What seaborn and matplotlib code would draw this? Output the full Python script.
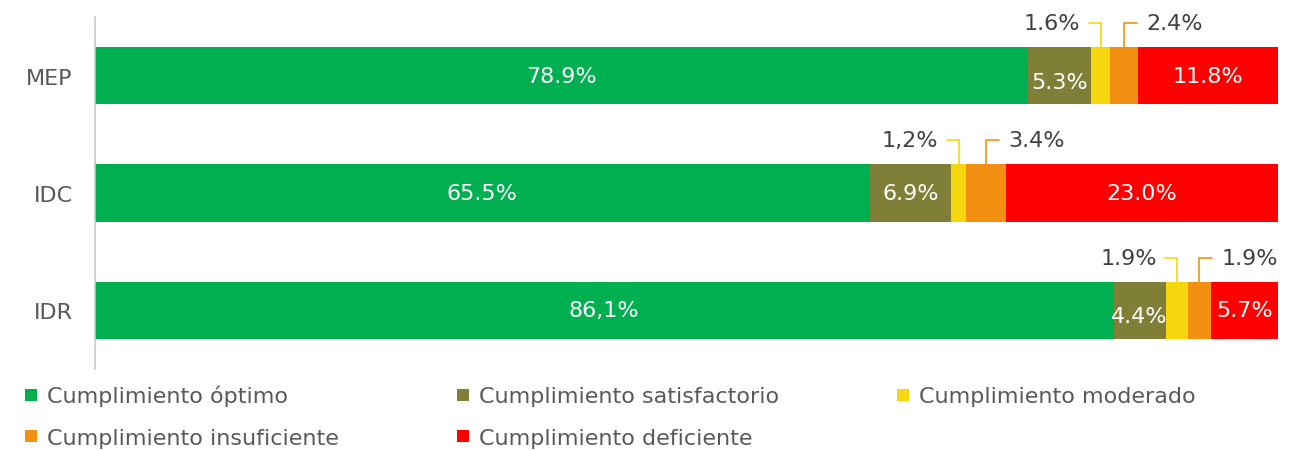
import matplotlib

matplotlib.use("Agg")
import matplotlib.pyplot as plt
import numpy as np
import seaborn as sns
from matplotlib.lines import Line2D


categories = ["MEP", "IDC", "IDR"]
levels = [
    "Cumplimiento óptimo",
    "Cumplimiento satisfactorio",
    "Cumplimiento moderado",
    "Cumplimiento insuficiente",
    "Cumplimiento deficiente",
]
optimo = [78.9, 65.5, 86.1]
satisfactorio = [5.3, 6.9, 4.4]
moderado = [1.6, 1.2, 1.9]
insuficiente = [2.4, 3.4, 1.9]
deficiente = [11.8, 23.0, 5.7]

optimo_labels = ["78.9%", "65.5%", "86,1%"]
satisfactorio_labels = ["5.3%", "6.9%", "4.4%"]
moderado_labels = ["1.6%", "1,2%", "1.9%"]
insuficiente_labels = ["2.4%", "3.4%", "1.9%"]
deficiente_labels = ["11.8%", "23.0%", "5.7%"]

colors = ["#00B050", "#7F7F37", "#F6D70F", "#F39012", "#FF0000"]
TEXT = "#404040"
LEGEND_TEXT = "#595959"

series = np.array([optimo, satisfactorio, moderado, insuficiente, deficiente])
lefts = np.vstack([np.zeros(len(categories)), np.cumsum(series, axis=0)[:-1]])
rights = np.cumsum(series, axis=0)

sns.set_theme(style="white")
plt.rcParams["font.family"] = ["DejaVu Sans"]

fig = plt.figure(figsize=(12.94, 4.52), dpi=100)
ax = fig.add_axes([95 / 1294, 1 - 370 / 452, (1278 - 95) / 1294, (370 - 18) / 452])

# stacked bars: draw cumulative totals from the outermost layer inward
for i in range(len(levels) - 1, -1, -1):
    sns.barplot(
        x=rights[i],
        y=categories,
        color=colors[i],
        saturation=1,
        width=0.49,
        linewidth=0,
        ax=ax,
    )

fs = 16
ax.set_xlim(0, 100)
ax.set_ylim(2.5, -0.5)
ax.set_xlabel("")
ax.set_ylabel("")
ax.set_xticks([])
ax.tick_params(axis="y", length=0, pad=16, labelsize=fs, labelcolor=LEGEND_TEXT)
for side in ["top", "right", "bottom"]:
    ax.spines[side].set_visible(False)
ax.spines["left"].set_color("#C8C8C8")
ax.spines["left"].set_linewidth(1.2)

inside = [
    (0, optimo_labels),
    (1, satisfactorio_labels),
    (4, deficiente_labels),
]
for idx, labels in inside:
    for j, lab in enumerate(labels):
        xc = (lefts[idx][j] + rights[idx][j]) / 2
        # the narrow olive labels sit a little low in the original
        dy = 0.05 if (idx == 1 and j != 1) else 0.0
        ax.text(xc, j + dy, lab, ha="center", va="center", color="white", fontsize=fs)

# small segments: labels above the bar with elbow leader lines
bar_top = 0.245
label_y = 0.45
for j in range(len(categories)):
    c = (lefts[2][j] + rights[2][j]) / 2
    ax.plot([c - 1.0, c, c], [j - label_y, j - label_y, j - bar_top],
            color=colors[2], linewidth=1.2, solid_joinstyle="miter")
    ax.text(c - 1.7, j - label_y, moderado_labels[j], ha="right", va="center",
            color=TEXT, fontsize=fs)

    c = (lefts[3][j] + rights[3][j]) / 2
    ax.plot([c, c, c + 1.1], [j - bar_top, j - label_y, j - label_y],
            color=colors[3], linewidth=1.2, solid_joinstyle="miter")
    ax.text(c + 1.9, j - label_y, insuficiente_labels[j], ha="left", va="center",
            color=TEXT, fontsize=fs)

handles = [
    Line2D([], [], marker="s", linestyle="", markersize=9, color=col, markeredgewidth=0)
    for col in colors
]
order = [0, 3, 1, 4, 2]
fig.legend(
    [handles[k] for k in order],
    [levels[k] for k in order],
    ncol=3,
    loc="upper left",
    bbox_to_anchor=(23 / 1294, 1 - 386 / 452),
    frameon=False,
    fontsize=fs,
    labelcolor=LEGEND_TEXT,
    handlelength=0.7,
    handletextpad=0.4,
    labelspacing=0.95,
    columnspacing=5.2,
    borderpad=0,
    borderaxespad=0,
)

fig.savefig("out.png", dpi=100)
plt.close(fig)
